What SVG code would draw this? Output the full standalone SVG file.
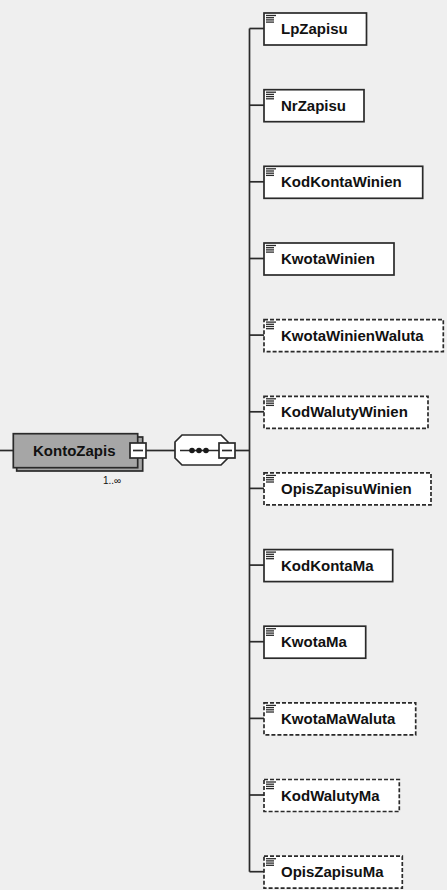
<svg xmlns="http://www.w3.org/2000/svg" width="447" height="890" viewBox="0 0 447 890">
<defs>
<style>
.bg{fill:#efefef}
.el{fill:#ffffff;stroke:#2a2a2a;stroke-width:1.7}
.opt{fill:#ffffff;stroke:#2a2a2a;stroke-width:1.7;stroke-dasharray:4 2}
.lbl{font-family:"Liberation Sans",Arial,sans-serif;font-weight:bold;font-size:15px;fill:#111111}
.card{font-family:"Liberation Sans",Arial,sans-serif;font-size:10px;fill:#111111}
.ln{stroke:#2a2a2a;stroke-width:1.7;fill:none}
.ic{stroke:#2a2a2a;stroke-width:1.3}
</style>
<g id="icon">
<line class="ic" x1="2" y1="2.5" x2="12" y2="2.5"/>
<line class="ic" x1="2" y1="4.7" x2="10" y2="4.7"/>
<line class="ic" x1="2" y1="6.9" x2="10" y2="6.9"/>
<line class="ic" x1="2" y1="9.1" x2="10" y2="9.1"/>
</g>
</defs>
<rect class="bg" x="0" y="0" width="447" height="890"/>

<g id="connectors">
<line class="ln" x1="0" y1="450.5" x2="13.3" y2="450.5"/>
<line class="ln" x1="146" y1="450.5" x2="175" y2="450.5"/>
<line class="ln" x1="235" y1="450.5" x2="249.5" y2="450.5"/>
<line class="ln" x1="249.5" y1="28.5" x2="249.5" y2="871.7"/>
<line class="ln" x1="249.5" y1="28.5" x2="264" y2="28.5"/>
<line class="ln" x1="249.5" y1="105.2" x2="264" y2="105.2"/>
<line class="ln" x1="249.5" y1="181.8" x2="264" y2="181.8"/>
<line class="ln" x1="249.5" y1="258.5" x2="264" y2="258.5"/>
<line class="ln" x1="249.5" y1="335.1" x2="264" y2="335.1"/>
<line class="ln" x1="249.5" y1="411.8" x2="264" y2="411.8"/>
<line class="ln" x1="249.5" y1="488.4" x2="264" y2="488.4"/>
<line class="ln" x1="249.5" y1="565.1" x2="264" y2="565.1"/>
<line class="ln" x1="249.5" y1="641.7" x2="264" y2="641.7"/>
<line class="ln" x1="249.5" y1="718.4" x2="264" y2="718.4"/>
<line class="ln" x1="249.5" y1="795" x2="264" y2="795"/>
<line class="ln" x1="249.5" y1="871.7" x2="264" y2="871.7"/>
</g>

<g id="KontoZapis">
<rect x="16.7" y="437" width="126" height="34" fill="#a6a6a6" stroke="#2a2a2a" stroke-width="1.7"/>
<rect x="13.3" y="433.7" width="124.4" height="34" fill="#a6a6a6" stroke="#2a2a2a" stroke-width="1.7"/>
<text class="lbl" x="33" y="455.5">KontoZapis</text>
<rect class="el" x="130" y="443" width="16" height="15"/>
<line class="ln" x1="133" y1="450.5" x2="143" y2="450.5"/>
<text class="card" x="103" y="484">1..∞</text>
</g>

<g id="sequence">
<polygon class="el" points="182,435 221,435 228,442 228,458 221,465 182,465 175,458 175,442"/>
<line class="ln" x1="180" y1="450.5" x2="219" y2="450.5"/>
<circle cx="192" cy="450.5" r="2.8" fill="#1a1a1a"/>
<circle cx="199" cy="450.5" r="2.8" fill="#1a1a1a"/>
<circle cx="206" cy="450.5" r="2.8" fill="#1a1a1a"/>
<rect class="el" x="219" y="443" width="16" height="15"/>
<line class="ln" x1="222" y1="450.5" x2="232" y2="450.5"/>
</g>

<g id="LpZapisu">
<rect class="el" x="264" y="13" width="102.5" height="32"/>
<use href="#icon" x="264" y="13"/>
<text class="lbl" x="281" y="34">LpZapisu</text>
</g>
<g id="NrZapisu">
<rect class="el" x="264" y="89.7" width="100" height="32"/>
<use href="#icon" x="264" y="89.7"/>
<text class="lbl" x="281" y="110.7">NrZapisu</text>
</g>
<g id="KodKontaWinien">
<rect class="el" x="264" y="166.3" width="158.7" height="32"/>
<use href="#icon" x="264" y="166.3"/>
<text class="lbl" x="281" y="187.3">KodKontaWinien</text>
</g>
<g id="KwotaWinien">
<rect class="el" x="264" y="243" width="130" height="32"/>
<use href="#icon" x="264" y="243"/>
<text class="lbl" x="281" y="264">KwotaWinien</text>
</g>
<g id="KwotaWinienWaluta">
<rect class="opt" x="264" y="319.6" width="179.3" height="32"/>
<use href="#icon" x="264" y="319.6"/>
<text class="lbl" x="281" y="340.6">KwotaWinienWaluta</text>
</g>
<g id="KodWalutyWinien">
<rect class="opt" x="264" y="396.3" width="164" height="32"/>
<use href="#icon" x="264" y="396.3"/>
<text class="lbl" x="281" y="417.3">KodWalutyWinien</text>
</g>
<g id="OpisZapisuWinien">
<rect class="opt" x="264" y="472.9" width="167" height="32"/>
<use href="#icon" x="264" y="472.9"/>
<text class="lbl" x="281" y="493.9">OpisZapisuWinien</text>
</g>
<g id="KodKontaMa">
<rect class="el" x="264" y="549.6" width="128.7" height="32"/>
<use href="#icon" x="264" y="549.6"/>
<text class="lbl" x="281" y="570.6">KodKontaMa</text>
</g>
<g id="KwotaMa">
<rect class="el" x="264" y="626.2" width="101.7" height="32"/>
<use href="#icon" x="264" y="626.2"/>
<text class="lbl" x="281" y="647.2">KwotaMa</text>
</g>
<g id="KwotaMaWaluta">
<rect class="opt" x="264" y="702.9" width="151.7" height="32"/>
<use href="#icon" x="264" y="702.9"/>
<text class="lbl" x="281" y="723.9">KwotaMaWaluta</text>
</g>
<g id="KodWalutyMa">
<rect class="opt" x="264" y="779.5" width="135.3" height="32"/>
<use href="#icon" x="264" y="779.5"/>
<text class="lbl" x="281" y="800.5">KodWalutyMa</text>
</g>
<g id="OpisZapisuMa">
<rect class="opt" x="264" y="856.2" width="138.3" height="32"/>
<use href="#icon" x="264" y="856.2"/>
<text class="lbl" x="281" y="877.2">OpisZapisuMa</text>
</g>
</svg>
